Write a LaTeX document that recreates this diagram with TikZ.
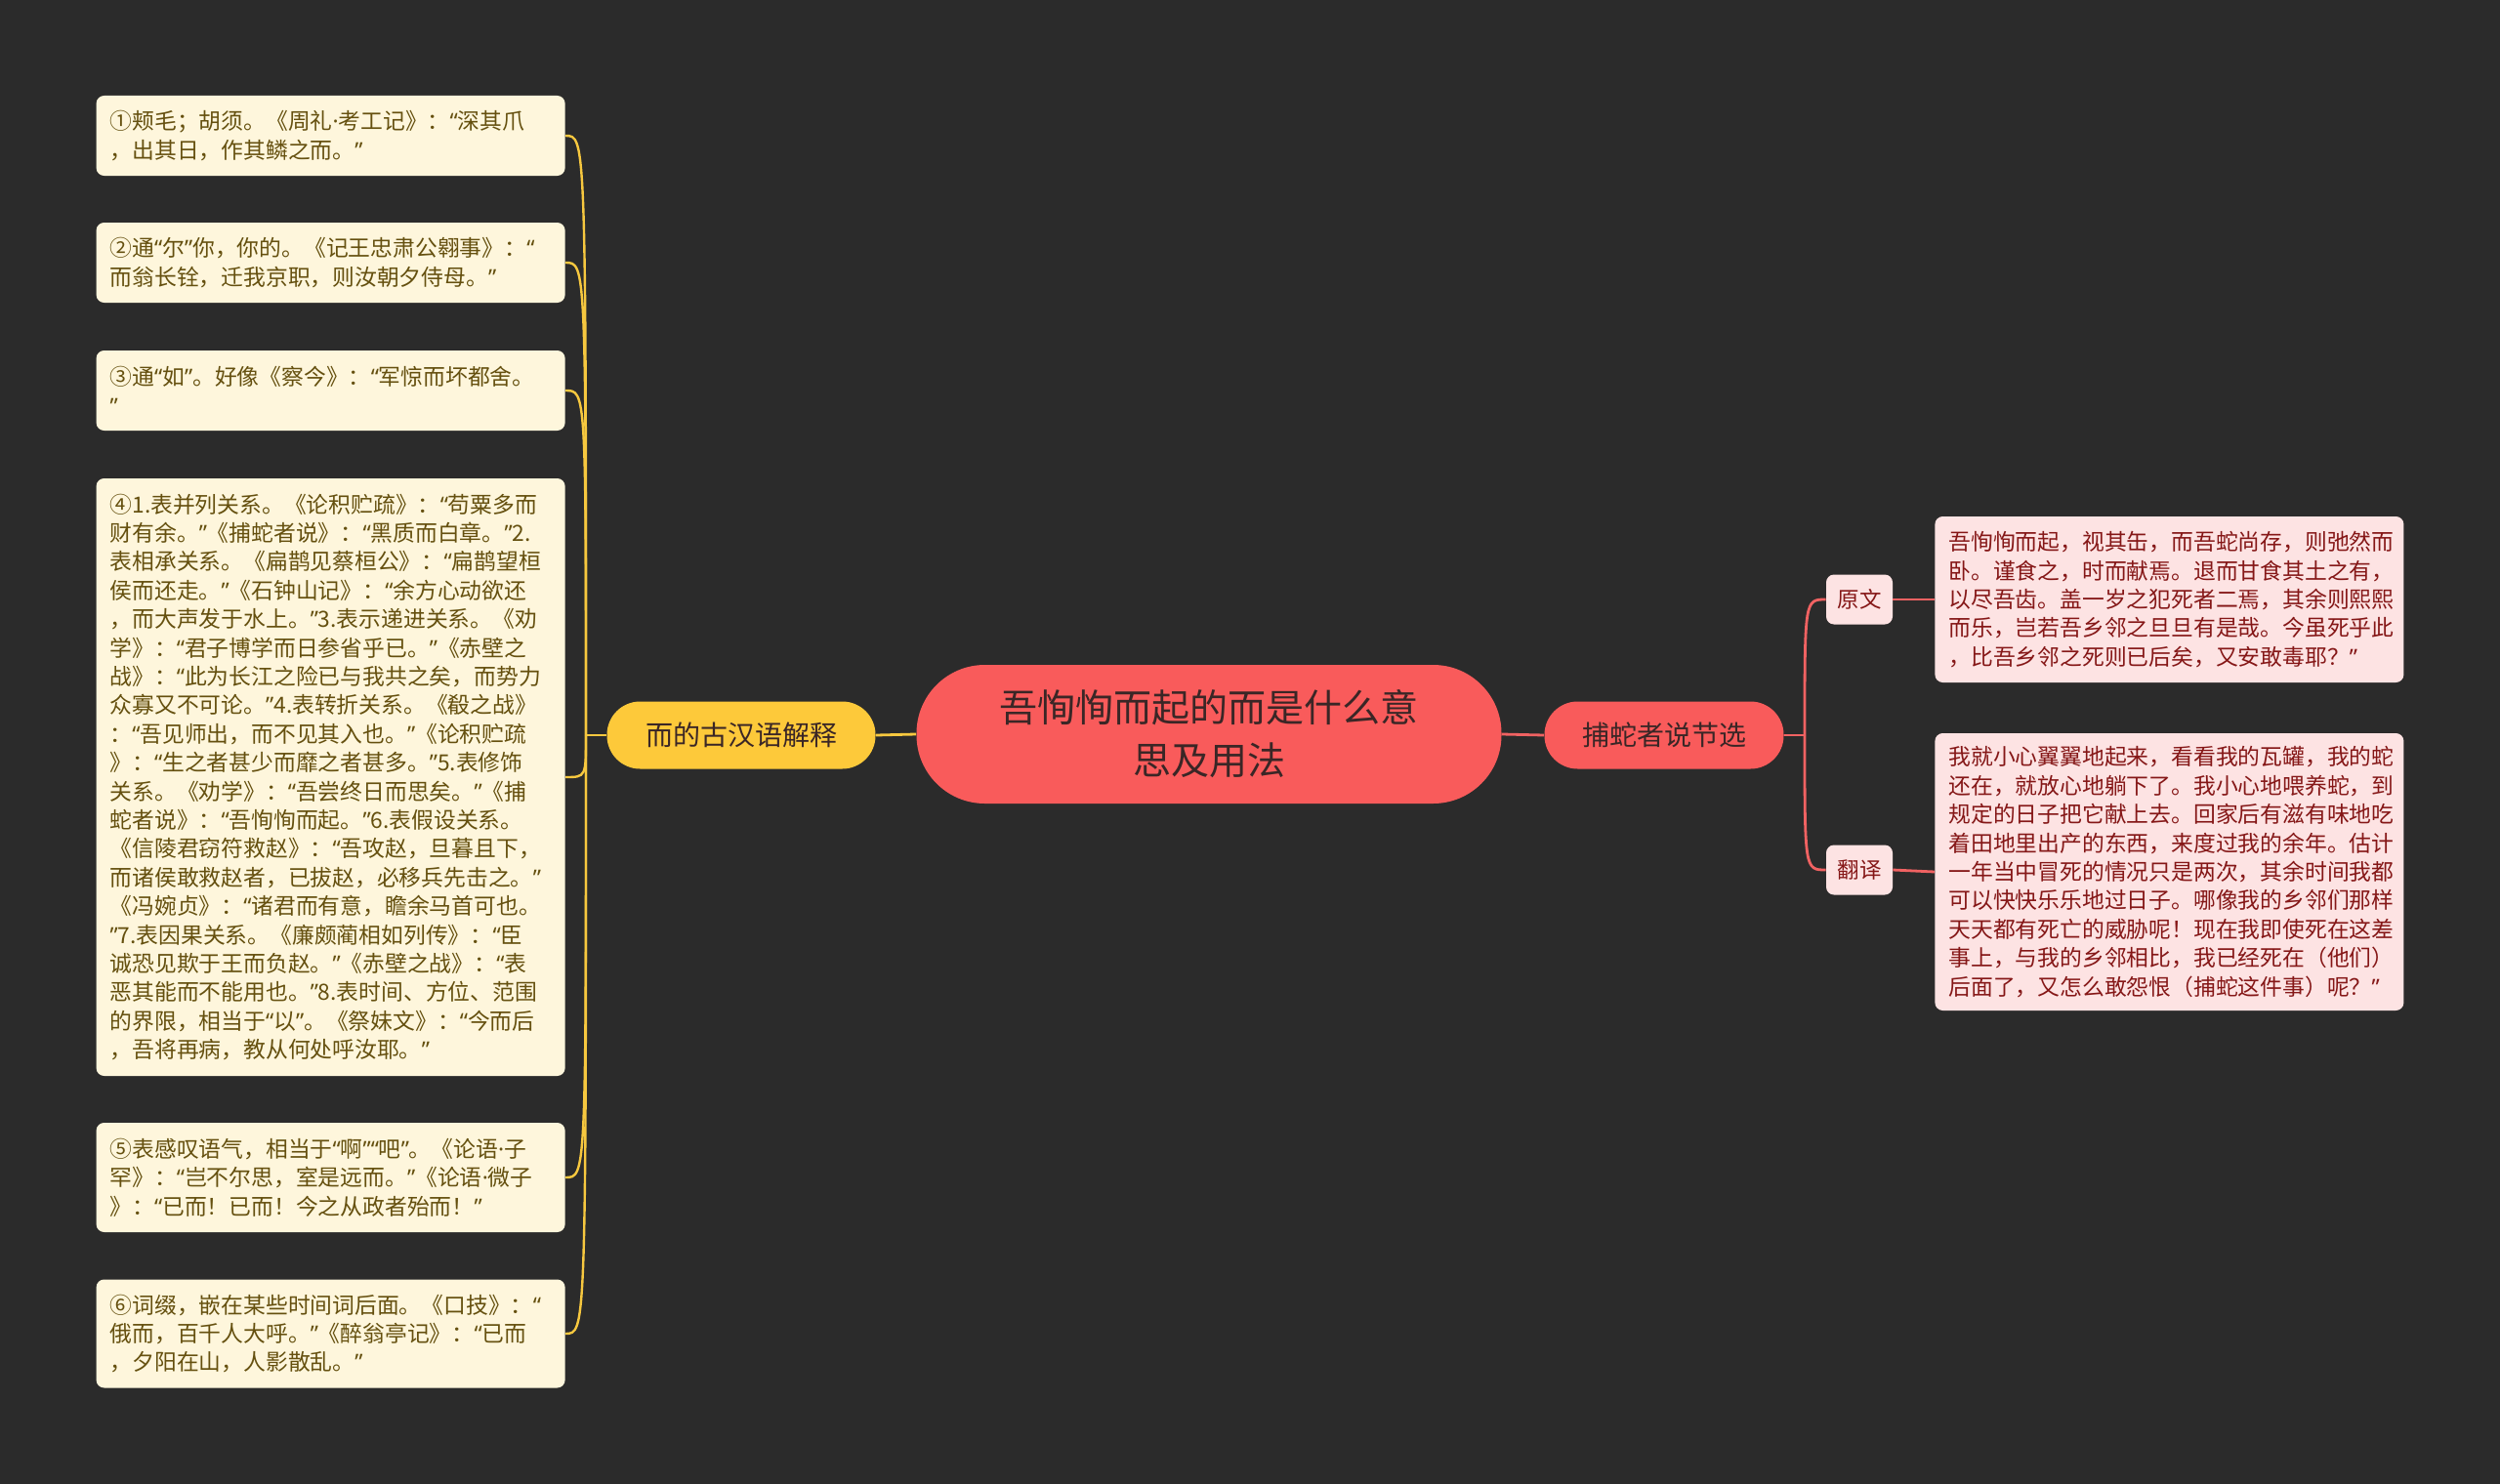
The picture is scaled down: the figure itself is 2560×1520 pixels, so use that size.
\documentclass[tikz,border=0pt]{standalone}
\usepackage{fontspec}
\newfontfamily\cjk{Noto Sans CJK SC}
\newfontfamily\latq{Noto Sans}
\usepackage{newunicodechar}
\newunicodechar{“}{{\latq\char"201C}}
\newunicodechar{”}{{\latq\char"201D}}
\newunicodechar{·}{{\latq\char"00B7}}
\usepackage{tikz}
\usetikzlibrary{positioning}
\usepackage{xcolor}
\definecolor{bgdark}{HTML}{2B2B2B}
\definecolor{coral}{HTML}{F95B5B}
\definecolor{sun}{HTML}{FDC93A}
\definecolor{cream}{HTML}{FEF6DC}
\definecolor{olive}{HTML}{65500F}
\definecolor{blush}{HTML}{FDE3E3}
\definecolor{wine}{HTML}{851717}
\definecolor{ink}{HTML}{3A2626}
\definecolor{lineY}{HTML}{F7C83F}
\definecolor{lineR}{HTML}{F06262}

\begin{document}
\begin{tikzpicture}[x=0.5pt,y=-0.5pt,
  topic/.style={fill=coral,text=ink,rounded corners=35pt,minimum width=299.5pt,minimum height=71pt,align=center,font=\cjk\fontsize{19.5}{27}\selectfont},
  branch/.style={rounded corners=17pt,minimum height=34.5pt,inner sep=0pt,text=ink,font=\cjk\fontsize{14}{16}\selectfont},
  tag/.style={fill=blush,text=wine,rounded corners=4pt,minimum width=34pt,minimum height=25.5pt,inner sep=0pt,font=\cjk\fontsize{11.25}{14}\selectfont},
  leaf/.style={rounded corners=4pt,text width=226pt,inner xsep=7pt,inner ysep=5pt,align=left,font=\cjk\fontsize{11.4}{14.7}\selectfont},
  yleaf/.style={leaf,fill=cream,text=olive,anchor=east},
  rleaf/.style={leaf,fill=blush,text=wine,anchor=west},
  linkY/.style={draw=lineY,line width=1.4pt},
  linkR/.style={draw=lineR,line width=1.4pt}
]
\fill[bgdark] (0,0) rectangle (2560,1520);
\useasboundingbox (0,0) rectangle (2560,1520);

% main topic and branches
\node[topic] (root) at (1238,752) {吾恂恂而起的而是什么意\\思及用法};
\node[branch,fill=sun,minimum width=137.5pt] (gu) at (759,753) {而的古汉语解释};
\node[branch,fill=coral,minimum width=122.5pt] (bs) at (1704,753) {捕蛇者说节选};
\node[tag] (yw) at (1904,614) {原文};
\node[tag] (fy) at (1904,891) {翻译};

% left notes
\node[yleaf,minimum height=41pt] (s1) at (579,139) {①颊毛；胡须。《周礼·考工记》：“深其爪\\，出其日，作其鳞之而。”};
\node[yleaf,minimum height=41pt] (s2) at (579,269) {②通“尔”你，你的。《记王忠肃公翱事》：“\\而翁长铨，迁我京职，则汝朝夕侍母。”};
\node[yleaf,minimum height=41pt] (s3) at (579,400) {③通“如”。好像《察今》：“军惊而坏都舍。\\”};
\node[yleaf,minimum height=306pt] (s4) at (579,796) {④1.表并列关系。《论积贮疏》：“苟粟多而\\财有余。”《捕蛇者说》：“黑质而白章。”2.\\表相承关系。《扁鹊见蔡桓公》：“扁鹊望桓\\侯而还走。”《石钟山记》：“余方心动欲还\\，而大声发于水上。”3.表示递进关系。《劝\\学》：“君子博学而日参省乎已。”《赤壁之\\战》：“此为长江之险已与我共之矣，而势力\\众寡又不可论。”4.表转折关系。《殽之战》\\：“吾见师出，而不见其入也。”《论积贮疏\\》：“生之者甚少而靡之者甚多。”5.表修饰\\关系。《劝学》：“吾尝终日而思矣。”《捕\\蛇者说》：“吾恂恂而起。”6.表假设关系。\\《信陵君窃符救赵》：“吾攻赵，旦暮且下，\\而诸侯敢救赵者，已拔赵，必移兵先击之。”\\《冯婉贞》：“诸君而有意，瞻余马首可也。\\”7.表因果关系。《廉颇蔺相如列传》：“臣\\诚恐见欺于王而负赵。”《赤壁之战》：“表\\恶其能而不能用也。”8.表时间、方位、范围\\的界限，相当于“以”。《祭妹文》：“今而后\\，吾将再病，教从何处呼汝耶。”};
\node[yleaf,minimum height=56pt] (s5) at (579,1206) {⑤表感叹语气，相当于“啊”“吧”。《论语·子\\罕》：“岂不尔思，室是远而。”《论语·微子\\》：“已而！已而！今之从政者殆而！”};
\node[yleaf,minimum height=55.5pt] (s6) at (579,1366) {⑥词缀，嵌在某些时间词后面。《口技》：“\\俄而，百千人大呼。”《醉翁亭记》：“已而\\，夕阳在山，人影散乱。”};

% right notes
\node[rleaf,minimum height=85pt] (ywtxt) at (1981,614) {吾恂恂而起，视其缶，而吾蛇尚存，则弛然而\\卧。谨食之，时而献焉。退而甘食其土之有，\\以尽吾齿。盖一岁之犯死者二焉，其余则熙熙\\而乐，岂若吾乡邻之旦旦有是哉。今虽死乎此\\，比吾乡邻之死则已后矣，又安敢毒耶？”};
\node[rleaf,minimum height=142pt] (fytxt) at (1981,893) {我就小心翼翼地起来，看看我的瓦罐，我的蛇\\还在，就放心地躺下了。我小心地喂养蛇，到\\规定的日子把它献上去。回家后有滋有味地吃\\着田地里出产的东西，来度过我的余年。估计\\一年当中冒死的情况只是两次，其余时间我都\\可以快快乐乐地过日子。哪像我的乡邻们那样\\天天都有死亡的威胁呢！现在我即使死在这差\\事上，与我的乡邻相比，我已经死在（他们）\\后面了，又怎么敢怨恨（捕蛇这件事）呢？”};

% connectors
\coordinate (gtrunk) at (600,753);
\coordinate (btrunk) at (1848,753);
\draw[linkY] (root.west) -- (gu.east);
\draw[linkY] (gu.west) -- (gtrunk);
\foreach \s in {s1,s2,s3,s4,s5,s6}
  \draw[linkY,line width=1.2pt] (gtrunk) .. controls (gtrunk |- \s.east) .. (\s.east);
\draw[linkR] (root.east) -- (bs.west);
\draw[linkR] (bs.east) -- (btrunk);
\foreach \t in {yw,fy}
  \draw[linkR] (btrunk) .. controls (btrunk |- \t.west) .. (\t.west);
\draw[linkR] (yw.east) -- (ywtxt.west);
\draw[linkR] (fy.east) -- (fytxt.west);
\end{tikzpicture}
\end{document}
